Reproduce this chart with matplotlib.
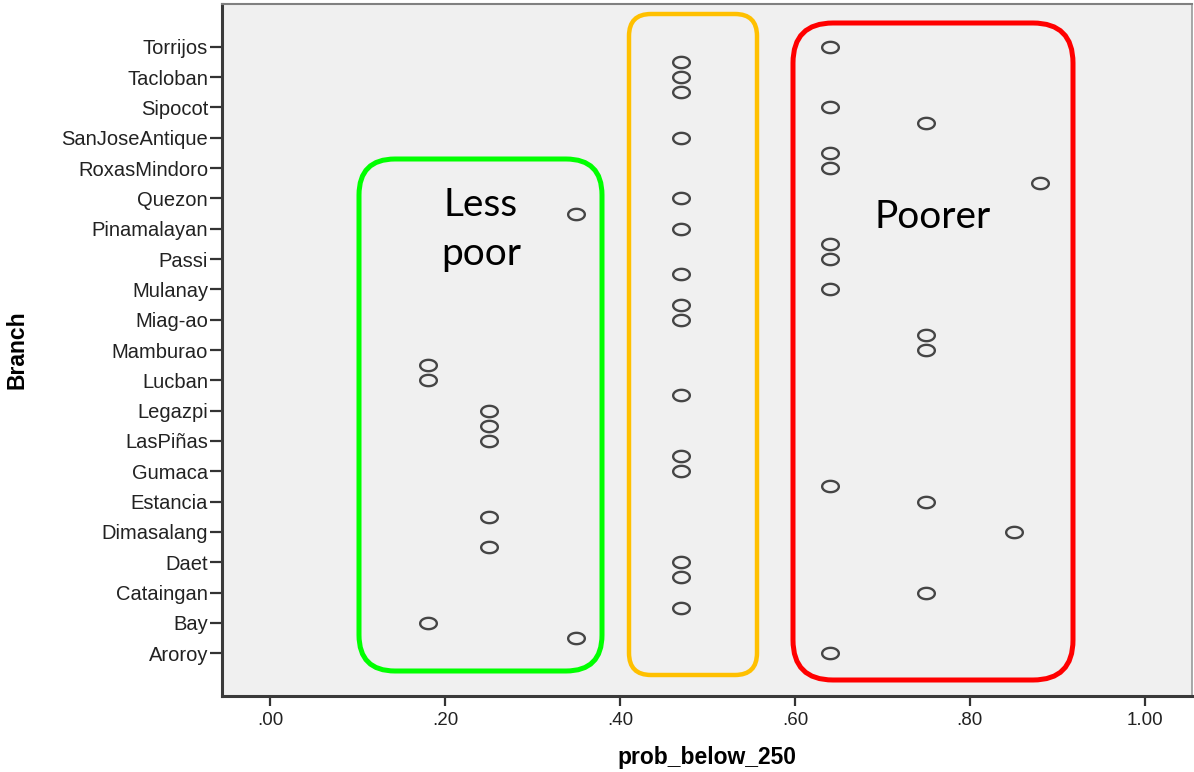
import matplotlib
matplotlib.use('Agg')
import matplotlib.pyplot as plt
import numpy as np
from matplotlib.patches import FancyBboxPatch
from matplotlib.path import Path

# branches, top to bottom as on the axis
branches = ['Torrijos', 'Tacloban', 'Sipocot', 'SanJoseAntique', 'RoxasMindoro',
            'Quezon', 'Pinamalayan', 'Passi', 'Mulanay', 'Miag-ao', 'Mamburao',
            'Lucban', 'Legazpi', 'LasPiñas', 'Gumaca', 'Estancia', 'Dimasalang',
            'Daet', 'Cataingan', 'Bay', 'Aroroy']

# one value per case, in the order the cases sit down the chart (half a branch apart)
prob_below_250 = [0.64, 0.47, 0.47, 0.47, 0.64, 0.75, 0.47, 0.64, 0.64, 0.88,
                  0.47, 0.35, 0.47, 0.64, 0.64, 0.47, 0.64, 0.47, 0.47, 0.75,
                  0.75, 0.18, 0.18, 0.47, 0.25, 0.25, 0.25, 0.47, 0.47, 0.64,
                  0.75, 0.25, 0.85, 0.25, 0.47, 0.47, 0.75, 0.47, 0.18, 0.35,
                  0.64]
case_pos = np.arange(len(prob_below_250)) * 0.5

xticks = [0.0, 0.2, 0.4, 0.6, 0.8, 1.0]
xtick_labels = ['.00', '.20', '.40', '.60', '.80', '1.00']

W, H = 1194, 772
fig = plt.figure(figsize=(W / 100, H / 100), dpi=100)
ax = fig.add_axes([222 / W, 1 - 696 / H, 970 / W, 692 / H])
ax.set_facecolor('#f0f0f0')

t = np.linspace(0, 2 * np.pi, 60)
ring = Path(np.c_[np.cos(t), 0.68 * np.sin(t)], closed=True)
ax.plot(prob_below_250, case_pos, linestyle='none', marker=ring, markersize=12,
        markerfacecolor='none', markeredgecolor='#454545', markeredgewidth=1.7)

ax.set_xlim(-0.055, 1.054)
ax.set_ylim(21.41, -1.41)
ax.set_xticks(xticks)
ax.set_xticklabels(xtick_labels, fontsize=13.5, family=['Liberation Sans', 'DejaVu Sans'],
                   color='#222222')
ax.set_yticks(range(len(branches)))
ax.set_yticklabels(branches, fontsize=14.5, family=['Liberation Sans', 'DejaVu Sans'],
                   color='#222222')
ax.tick_params(axis='y', length=9, width=1.6, pad=1, color='#333333')
ax.tick_params(axis='x', length=7.5, width=1.6, pad=4, color='#333333')

for side in ['left', 'bottom']:
    ax.spines[side].set_color('#3a3a3a')
    ax.spines[side].set_linewidth(2.2)
ax.spines['top'].set_color('#808080')
ax.spines['top'].set_linewidth(1.5)
ax.spines['right'].set_color('#999999')
ax.spines['right'].set_linewidth(1.2)

ax.set_xlabel('prob_below_250', fontsize=16.5, fontweight='bold',
              family=['Liberation Sans', 'DejaVu Sans'], labelpad=12)
ax.set_ylabel('Branch', fontsize=16.5, fontweight='bold',
              family=['Liberation Sans', 'DejaVu Sans'], va='center')
ax.yaxis.set_label_coords(-0.211, 0.5)


def box(left, top, right, bottom, r, color, lw):
    # rounded frame given in picture pixels (y measured from the top)
    p = FancyBboxPatch((left, H - bottom), right - left, bottom - top,
                       boxstyle='round,pad=0,rounding_size=%d' % r,
                       facecolor='none', edgecolor=color, linewidth=lw,
                       transform=None, zorder=5)
    fig.add_artist(p)


box(359, 159, 602, 671, 36, '#00ff00', 3.6)
box(629, 14, 757, 675, 22, '#ffc000', 3.2)
box(793, 23, 1073, 680, 40, '#ff0000', 3.6)

note = dict(fontsize=28, family=['Lato', 'DejaVu Sans'], ha='center', va='baseline',
            color='black')
fig.text(481 / W, 1 - 216 / H, 'Less', **note)
fig.text(481 / W, 1 - 265 / H, 'poor', **note)
fig.text(933 / W, 1 - 228 / H, 'Poorer', **note)

fig.savefig('out.png', dpi=100, facecolor='white')
